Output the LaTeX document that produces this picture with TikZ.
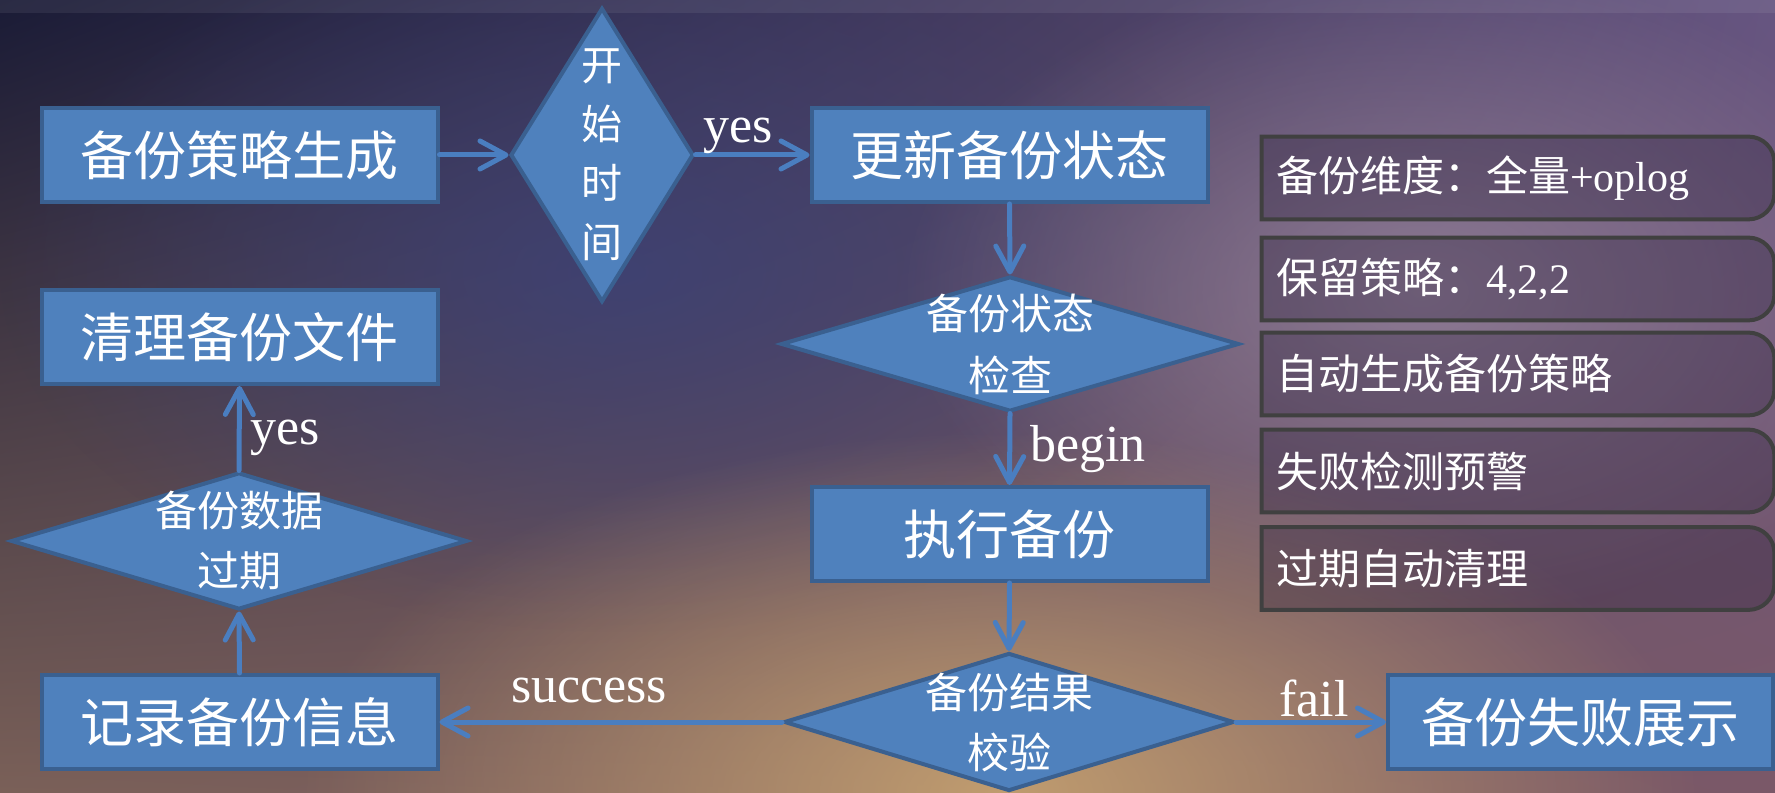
\documentclass[tikz,border=0pt]{standalone}
\usepackage{fontspec}
\setmainfont{Liberation Serif}
\newfontfamily\cjk{Noto Sans CJK SC}
\usetikzlibrary{shapes.geometric,arrows.meta,fadings,shadings}
\definecolor{boxfill}{HTML}{4F81BD}
\definecolor{boxline}{HTML}{3A6090}
\definecolor{arrowc}{HTML}{4A7EC0}
\definecolor{rline}{HTML}{404040}
\definecolor{rfill}{HTML}{241A35}
\definecolor{bgTL}{HTML}{1A1B36}
\definecolor{bgTR}{HTML}{665581}
\definecolor{bgBL}{HTML}{7A6058}
\definecolor{bgBR}{HTML}{7A5868}
\definecolor{glowtan}{HTML}{C4A070}
\definecolor{glowblue}{HTML}{3C4278}
\definecolor{glowmauve}{HTML}{9A88A0}
\tikzfading[name=glow, inner color=transparent!0, outer color=transparent!100]
\pgfdeclarelayer{back}
\pgfdeclarelayer{mid}
\pgfsetlayers{back,mid,main}
\begin{document}
\begin{tikzpicture}[x=0.5pt,y=0.5pt,
  mainbox/.style={rectangle, draw=boxline, line width=2pt, fill=boxfill, minimum width=198pt, minimum height=47pt, inner sep=0pt, text=white, font=\cjk\fontsize{26.5}{30}\selectfont},
  dia/.style={diamond, draw=boxline, line width=2pt, fill=boxfill, inner sep=0pt},
  diatext/.style={text=white, align=center, inner sep=0pt, font=\cjk\fontsize{21}{30}\selectfont},
  flow/.style={draw=arrowc, line width=2.5pt, line cap=round, -{Straight Barb[length=13pt,width=14pt,round]}},
  lbl/.style={text=white, inner sep=0pt, font=\fontsize{26}{30}\selectfont},
  rbox/.style={rectangle, minimum width=256pt, minimum height=41pt, text width=242pt, inner xsep=7pt, inner ysep=0pt, align=left, text=white, font=\fontsize{21}{25}\selectfont},
  rshape/.style={draw=rline, line width=2pt, fill=rfill, fill opacity=0.3}
]
\useasboundingbox (0,0) rectangle (1775,792);
\begin{pgfonlayer}{back}
\begin{scope}
\clip (0,0) rectangle (1775,792);
\shade[upper left=bgTL, upper right=bgTR, lower left=bgBL, lower right=bgBR] (0,0) rectangle (1775,792);
\fill[glowblue, path fading=glow, fill opacity=0.8] (620,520) ellipse [x radius=620, y radius=360];
\fill[glowmauve, path fading=glow, fill opacity=0.75] (1420,500) ellipse [x radius=520, y radius=330];
\fill[glowtan, path fading=glow, fill opacity=0.95] (1000,0) ellipse [x radius=700, y radius=360];
\fill[white, fill opacity=0.07] (0,779) rectangle (1775,792);
\end{scope}
\end{pgfonlayer}

% main flow boxes
\node[mainbox] (b1) at (239.5,637) {备份策略生成};
\node[dia, minimum width=91.5pt, minimum height=147pt] (d1) at (602,637) {};
\node[diatext, font=\cjk\fontsize{20.5}{29.5}\selectfont] (d1t) at (d1.center) {开\\始\\时\\间};
\node[mainbox] (b2) at (1009.5,637) {更新备份状态};
\node[dia, minimum width=229pt, minimum height=67.5pt] (d2) at (1010,448) {};
\node[diatext, font=\cjk\fontsize{21}{31}\selectfont] (d2t) at (d2.center) {备份状态\\检查};
\node[mainbox] (b3) at (1009.5,258) {执行备份};
\node[dia, minimum width=225pt, minimum height=69pt] (d3) at (1009,70) {};
\node[diatext] (d3t) at (d3.center) {备份结果\\校验};
\node[mainbox] (b5) at (239.5,70) {记录备份信息};
\node[mainbox, minimum width=192.5pt] (b6) at (1580.5,70) {备份失败展示};
\node[dia, minimum width=228pt, minimum height=68.5pt] (d4) at (239,251) {};
\node[diatext] (d4t) at (d4.center) {备份数据\\过期};
\node[mainbox] (b4) at (239.5,455) {清理备份文件};

% connectors
\draw[flow] (b1.east) -- (d1.west);
\draw[flow] (d1.east) -- (b2.west);
\draw[flow] (b2.south) -- (d2.north);
\draw[flow] (d2.south) -- (b3.north);
\draw[flow] (b3.south) -- (d3.north);
\draw[flow] (d3.west) -- (b5.east);
\draw[flow] (d3.east) -- (b6.west);
\draw[flow] (b5.north) -- (d4.south);
\draw[flow] (d4.north) -- (b4.south);

% labels
\node[lbl, anchor=base] (l1) at (738,649) {yes};
\node[lbl, anchor=base west] (l2) at (1030,330) {begin};
\node[lbl, anchor=base west] (l3) at (250,347) {yes};
\node[lbl, anchor=base] (l4) at (589,90) {success};
\node[lbl, anchor=base] (l5) at (1314,76) {fail};

% right-side feature boxes
\node[rbox] (r1) at (1518,614) {{\cjk 备份维度：全量}+oplog};
\node[rbox] (r2) at (1518,513) {{\cjk 保留策略：}4,2,2};
\node[rbox] (r3) at (1518,418) {{\cjk 自动生成备份策略}};
\node[rbox] (r4) at (1518,321) {{\cjk 失败检测预警}};
\node[rbox] (r5) at (1518,223.5) {{\cjk 过期自动清理}};
\begin{pgfonlayer}{mid}
\foreach \r in {r1,r2,r3,r4,r5}{
  \path[rshape] (\r.south west) -- (\r.north west) -- ([xshift=-13pt]\r.north east) arc[start angle=90,end angle=0,radius=13pt] -- ([yshift=13pt]\r.south east) arc[start angle=0,end angle=-90,radius=13pt] -- cycle;
}
\end{pgfonlayer}
\end{tikzpicture}
\end{document}
